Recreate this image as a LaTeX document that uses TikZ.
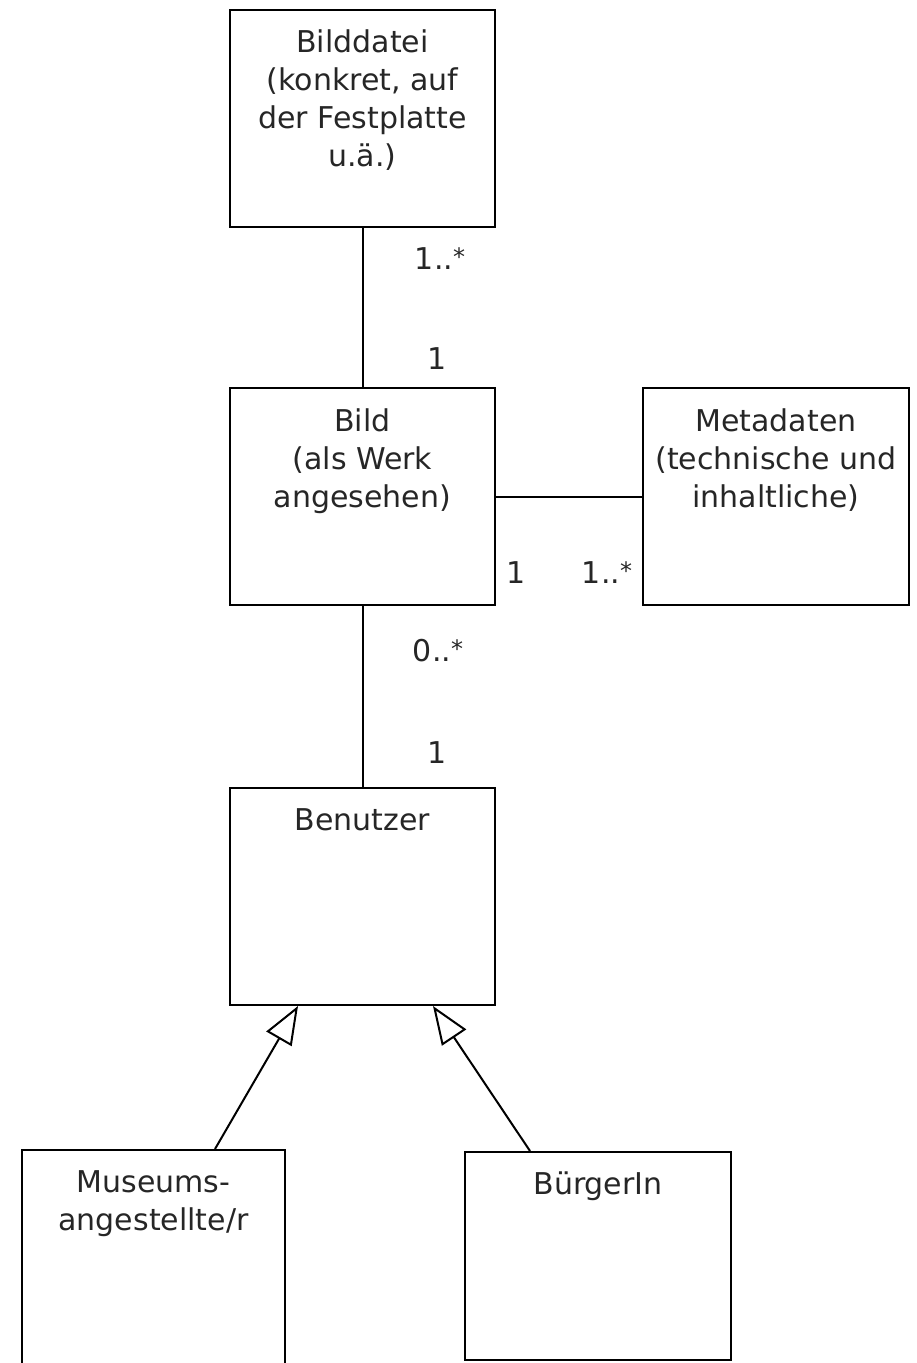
\documentclass[tikz,border=0pt]{standalone}
\usepackage{fontspec}
\setmainfont{DejaVu Sans}
\usetikzlibrary{arrows.meta}

\newcommand{\stern}{\raisebox{3.5pt}{\fontsize{24}{24}\selectfont *}}

\begin{document}
\begin{tikzpicture}[x=1pt, y=-1pt,
    klasse/.style={draw, line width=2pt, minimum width=265pt, minimum height=217pt, inner sep=0pt},
    titel/.style={anchor=north, align=center, inner sep=0pt, yshift=-21pt},
    mult/.style={anchor=base, inner sep=0pt},
    verbindung/.style={line width=2pt},
    erbt/.style={line width=2pt, -{Triangle[open, length=38pt, width=29pt]}},
    every node/.style={font=\fontsize{30}{38}\selectfont, text=black!85}]

\useasboundingbox (0,0) rectangle (916,1363);

% ===== Klassen =====
\node[klasse] (bilddatei) at (362.5,118.5) {};
\node[klasse] (bild) at (362.5,496.5) {};
\node[klasse, minimum width=266pt] (metadaten) at (776,496.5) {};
\node[klasse] (benutzer) at (362.5,896.5) {};
\node[klasse, minimum width=263pt, minimum height=222pt] (museum) at (153.5,1261) {};
\node[klasse, minimum width=266pt, minimum height=208pt] (buergerin) at (598,1256) {};

% ===== Namen =====
\node[titel] (bilddatei-t) at (bilddatei.north) {Bilddatei\\(konkret, auf\\der Festplatte\\u.ä.)};
\node[titel] (bild-t) at (bild.north) {Bild\\(als Werk\\angesehen)};
\node[titel] (metadaten-t) at (metadaten.north) {Metadaten\\(technische und\\inhaltliche)};
\node[titel] (benutzer-t) at (benutzer.north) {Benutzer};
\node[titel] (museum-t) at (museum.north) {Museums-\\angestellte/r};
\node[titel] (buergerin-t) at (buergerin.north) {BürgerIn};

% ===== Assoziationen =====
\draw[verbindung] (bilddatei) -- (bild);
\draw[verbindung] (bild) -- (metadaten);
\draw[verbindung] (bild) -- (benutzer);

% ===== Vererbung =====
\draw[erbt] ([xshift=61.5pt]museum.north) -- ([xshift=-64.5pt]benutzer.south);
\draw[erbt] ([xshift=-68pt]buergerin.north) -- ([xshift=70.5pt]benutzer.south);

% ===== Multiplizitaeten =====
\node[mult] (m-bilddatei) at (440,269) {1..\stern};
\node[mult] (m-bild-oben) at (437,369) {1};
\node[mult] (m-bild-rechts) at (516,583) {1};
\node[mult] (m-metadaten) at (607,583) {1..\stern};
\node[mult] (m-bild-unten) at (438,661) {0..\stern};
\node[mult] (m-benutzer) at (437,763) {1};

\end{tikzpicture}
\end{document}
